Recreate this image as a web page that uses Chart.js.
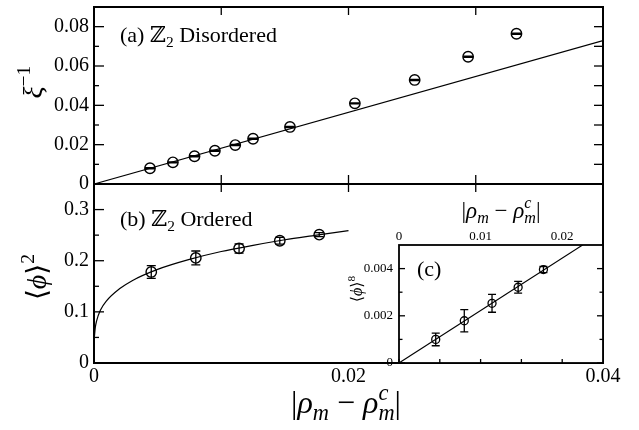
<!DOCTYPE html>
<html>
<head>
<meta charset="utf-8">
<title>Z2 order parameter</title>
<script src="https://cdn.jsdelivr.net/npm/chart.js@4/dist/chart.umd.min.js"></script>
<style>
  body { margin: 0; background: #fff; }
  #wrap { position: relative; width: 639px; height: 430px; }
  #wrap canvas { position: absolute; left: 0; top: 0; }
</style>
</head>
<body>
<div id="wrap">
  <canvas id="topChart" width="639" height="430"></canvas>
  <canvas id="midChart" width="639" height="430"></canvas>
  <canvas id="insetChart" width="639" height="430"></canvas>
</div>
<script>
// (a) Z2 disordered: inverse correlation length
const topX = [0.0044, 0.0062, 0.0079, 0.0095, 0.0111, 0.0125, 0.0154, 0.0205, 0.0252, 0.0294, 0.0332];
const topY = [0.0080, 0.0110, 0.0141, 0.0169, 0.0198, 0.0230, 0.0290, 0.0410, 0.0529, 0.0647, 0.0764];
const topErr = [0.0003, 0.0003, 0.0003, 0.0003, 0.0003, 0.0003, 0.0003, 0.0003, 0.0003, 0.0003, 0.0003];
const topFitX = [0, 0.04];
const topFitY = [0, 0.0729];

// (b) Z2 ordered: <phi>^2
const midX = [0.0045, 0.0080, 0.0114, 0.0146, 0.0177];
const midY = [0.178, 0.2055, 0.224, 0.239, 0.251];
const midErr = [0.0125, 0.0135, 0.009, 0.0065, 0.004];
const midCurveX = [0.00003, 0.0001, 0.0002, 0.0005, 0.001, 0.002, 0.003, 0.005, 0.0075, 0.01, 0.0125, 0.015, 0.0175, 0.02];
const midCurveY = [0.051, 0.069, 0.082, 0.103, 0.122, 0.145, 0.161, 0.183, 0.2025, 0.218, 0.230, 0.241, 0.250, 0.259];

// (c) inset: <phi>^8
const insetX = [0.0045, 0.0080, 0.0114, 0.0146, 0.0177];
const insetY = [0.00100, 0.00179, 0.00253, 0.00321, 0.00396];
const insetErr = [0.00027, 0.00047, 0.00038, 0.00025, 0.00013];
const insetFitX = [0, 0.0225];
const insetFitY = [0, 0.005];

// tick values
const topYTicks = [0, 0.02, 0.04, 0.06, 0.08];
const topYMinor = [0.01, 0.03, 0.05, 0.07];
const topXTicks = [0.01, 0.02, 0.03];
const midYTicks = [0, 0.1, 0.2, 0.3];
const midYMinor = [0.05, 0.15, 0.25];
const midXTicks = [0, 0.02, 0.04];
const insetXTicks = [0, 0.01, 0.02];
const insetXMinor = [0.005, 0.015];
const insetYTicks = [0, 0.002, 0.004];
const insetYMinor = [0.001, 0.003];

const FAM = "'Liberation Serif', 'DejaVu Serif', serif";

function pts(xs, ys) {
  return xs.map(function (x, i) { return { x: x, y: ys[i] }; });
}

function zeroPad(s) {
  s.paddingTop = 0; s.paddingBottom = 0; s.paddingLeft = 0; s.paddingRight = 0;
}

// box around the plot area + inward tick marks
const framePlugin = {
  id: "frame",
  beforeDatasetsDraw: function (chart, args, opts) {
    if (!opts.fill) return;
    var a = chart.chartArea, ctx = chart.ctx;
    ctx.save();
    ctx.fillStyle = opts.fill;
    ctx.fillRect(a.left, a.top, a.right - a.left, a.bottom - a.top);
    ctx.restore();
  },
  afterDatasetsDraw: function (chart, args, opts) {
    var a = chart.chartArea, ctx = chart.ctx;
    ctx.save();
    ctx.strokeStyle = "#000";
    ctx.lineWidth = opts.tickWidth || 1.3;
    (opts.marks || []).forEach(function (m) {
      var sc = chart.scales[m.axis];
      m.values.forEach(function (v) {
        var p = sc.getPixelForValue(v);
        ctx.beginPath();
        if (m.side === "left") { ctx.moveTo(a.left, p); ctx.lineTo(a.left + m.len, p); }
        if (m.side === "right") { ctx.moveTo(a.right, p); ctx.lineTo(a.right - m.len, p); }
        if (m.side === "top") { ctx.moveTo(p, a.top); ctx.lineTo(p, a.top + m.len); }
        if (m.side === "bottom") { ctx.moveTo(p, a.bottom); ctx.lineTo(p, a.bottom - m.len); }
        ctx.stroke();
      });
    });
    ctx.lineWidth = opts.lineWidth || 2;
    ctx.strokeRect(a.left, a.top, a.right - a.left, a.bottom - a.top);
    ctx.restore();
  }
};

// vertical error bars with caps
const errPlugin = {
  id: "errbars",
  afterDatasetsDraw: function (chart) {
    var ctx = chart.ctx, ys = chart.scales.y;
    chart.data.datasets.forEach(function (ds, i) {
      if (!ds.errors) return;
      var meta = chart.getDatasetMeta(i);
      ctx.save();
      ctx.strokeStyle = "#000";
      ctx.lineWidth = ds.errWidth || 1.3;
      meta.data.forEach(function (el, j) {
        var v = ds.data[j].y, e = ds.errors[j];
        var y1 = ys.getPixelForValue(v + e), y2 = ys.getPixelForValue(v - e);
        var w = ds.capHalf || 4.5;
        ctx.beginPath();
        ctx.moveTo(el.x, y1); ctx.lineTo(el.x, y2);
        ctx.moveTo(el.x - w, y1); ctx.lineTo(el.x + w, y1);
        ctx.moveTo(el.x - w, y2); ctx.lineTo(el.x + w, y2);
        ctx.stroke();
      });
      ctx.restore();
    });
  }
};

// text with sub/superscripts (axis titles and panel labels)
function fontFor(size, it) {
  return (it ? "italic " : "") + size + "px " + FAM;
}

function drawRich(ctx, t) {
  var S = t.size;
  var items = t.parts.map(function (p) {
    var small = S * 0.7, w;
    if (p.stack) {
      ctx.font = fontFor(small, true);
      w = Math.max(ctx.measureText(p.stack[0]).width, ctx.measureText(p.stack[1]).width);
    } else {
      ctx.font = fontFor(p.pos ? small : S, p.it);
      w = ctx.measureText(p.t).width;
    }
    return { p: p, w: w + (p.gap || 0) };
  });
  var total = items.reduce(function (s, it) { return s + it.w; }, 0);
  ctx.save();
  ctx.translate(t.x, t.y);
  if (t.rot) ctx.rotate(t.rot * Math.PI / 180);
  ctx.fillStyle = "#000";
  ctx.textBaseline = "alphabetic";
  ctx.textAlign = "left";
  var x = t.align === "left" ? 0 : -total / 2;
  items.forEach(function (it) {
    var p = it.p;
    if (p.stack) {
      ctx.font = fontFor(S * 0.7, true);
      ctx.fillText(p.stack[0], x, -S * 0.42);
      ctx.fillText(p.stack[1], x, S * 0.22);
    } else {
      ctx.font = fontFor(p.pos ? S * 0.7 : S, p.it);
      var dy = p.pos === "sup" ? -S * 0.42 : (p.pos === "sub" ? S * 0.22 : 0);
      ctx.fillText(p.t, x, dy);
    }
    x += it.w;
  });
  ctx.restore();
}

const richPlugin = {
  id: "rich",
  afterDraw: function (chart, args, opts) {
    (opts.texts || []).forEach(function (t) { drawRich(chart.ctx, t); });
  }
};

function rhoTitle(x, y, size) {
  return {
    x: x, y: y, size: size,
    parts: [
      { t: "|" }, { t: "ρ", it: true }, { t: "m", it: true, pos: "sub" },
      { t: " − " }, { t: "ρ", it: true }, { stack: ["c", "m"] }, { t: "|" }
    ]
  };
}

function yScale(min, max, ticks, width, size, digits, pad) {
  return {
    min: min, max: max,
    afterBuildTicks: function (s) { s.ticks = ticks.map(function (v) { return { value: v }; }); },
    ticks: {
      font: { family: FAM, size: size }, color: "#000", padding: pad,
      callback: function (v) { return v === 0 ? "0" : v.toFixed(digits); }
    },
    grid: { display: false, drawTicks: false },
    border: { display: false },
    afterFit: function (s) { s.width = width; zeroPad(s); }
  };
}

// height: fixed box height of the axis (labels are clipped to it)
function xScale(min, max, ticks, size, digits, pad, position, height) {
  return {
    type: "linear", min: min, max: max, position: position || "bottom",
    afterBuildTicks: function (s) { s.ticks = ticks.map(function (v) { return { value: v }; }); },
    ticks: {
      display: size > 0,
      font: { family: FAM, size: size || 10 }, color: "#000", padding: pad, maxRotation: 0, autoSkip: false,
      callback: function (v) { return v === 0 ? "0" : v.toFixed(digits); }
    },
    grid: { display: false, drawTicks: false },
    border: { display: false },
    afterFit: function (s) { s.height = height || 0; zeroPad(s); }
  };
}

var common = { responsive: false, animation: false };

// panel (a)
new Chart(document.getElementById("topChart"), {
  type: "scatter",
  data: {
    datasets: [
      { data: pts(topFitX, topFitY), showLine: true, borderColor: "#000", borderWidth: 1.2, pointRadius: 0 },
      { data: pts(topX, topY), errors: topErr, capHalf: 5, errWidth: 1.2, showLine: false, pointRadius: 5.2,
        pointBorderWidth: 1.4, pointBorderColor: "#000", pointBackgroundColor: "rgba(0,0,0,0)" }
    ]
  },
  options: Object.assign({}, common, {
    layout: { padding: { left: 0, top: 7, right: 36, bottom: 246 } },
    plugins: {
      legend: { display: false }, tooltip: { enabled: false },
      frame: {
        lineWidth: 2,
        marks: [
          { axis: "y", side: "left", values: topYTicks, len: 10 },
          { axis: "y", side: "left", values: topYMinor, len: 5 },
          { axis: "y", side: "right", values: topYTicks.concat(topYMinor), len: 9 },
          { axis: "x", side: "top", values: topXTicks, len: 8 },
          { axis: "x", side: "bottom", values: topXTicks, len: 9 }
        ]
      },
      rich: {
        texts: [
          { x: 42, y: 82, rot: -90, size: 28, parts: [{ t: "ξ", it: true }, { t: "−1", pos: "sup" }] },
          { x: 120, y: 42, size: 22, align: "left",
            parts: [{ t: "(a) " }, { t: "ℤ" }, { t: "2", pos: "sub" }, { t: " Disordered" }] }
        ]
      }
    },
    scales: {
      x: xScale(0, 0.04, topXTicks, 0, 2, 0),
      y: yScale(0, 0.09, topYTicks, 94, 20, 2, 5)
    }
  }),
  plugins: [framePlugin, errPlugin, richPlugin]
});

// panel (b)
new Chart(document.getElementById("midChart"), {
  type: "scatter",
  data: {
    datasets: [
      { data: pts(midCurveX, midCurveY), showLine: true, borderColor: "#000", borderWidth: 1.2, pointRadius: 0,
        cubicInterpolationMode: "monotone" },
      { data: pts(midX, midY), errors: midErr, capHalf: 4.5, errWidth: 1.3, showLine: false, pointRadius: 5.2,
        pointBorderWidth: 1.4, pointBorderColor: "#000", pointBackgroundColor: "rgba(0,0,0,0)" }
    ]
  },
  options: Object.assign({}, common, {
    layout: { padding: { left: 0, top: 184, right: 36, bottom: 37 } },
    plugins: {
      legend: { display: false }, tooltip: { enabled: false },
      frame: {
        lineWidth: 2,
        marks: [
          { axis: "y", side: "left", values: midYTicks, len: 10 },
          { axis: "y", side: "left", values: midYMinor, len: 5 },
          { axis: "x", side: "top", values: topXTicks, len: 8 }
        ]
      },
      rich: {
        texts: [
          { x: 46, y: 277, rot: -90, size: 28,
            parts: [{ t: "⟨" }, { t: "ϕ", it: true }, { t: "⟩" }, { t: "2", pos: "sup" }] },
          { x: 120, y: 226, size: 22, align: "left",
            parts: [{ t: "(b) " }, { t: "ℤ" }, { t: "2", pos: "sub" }, { t: " Ordered" }] },
          rhoTitle(346, 413, 32)
        ]
      }
    },
    scales: {
      x: xScale(0, 0.04, midXTicks, 20, 2, 2, "bottom", 30),
      y: yScale(0, 0.35, midYTicks, 94, 20, 1, 5)
    }
  }),
  plugins: [framePlugin, errPlugin, richPlugin]
});

// inset (c)
new Chart(document.getElementById("insetChart"), {
  type: "scatter",
  data: {
    datasets: [
      { data: pts(insetFitX, insetFitY), showLine: true, borderColor: "#000", borderWidth: 1.1, pointRadius: 0 },
      { data: pts(insetX, insetY), errors: insetErr, capHalf: 4, errWidth: 1.3, showLine: false, pointRadius: 4,
        pointBorderWidth: 1.3, pointBorderColor: "#000", pointBackgroundColor: "rgba(0,0,0,0)" }
    ]
  },
  options: Object.assign({}, common, {
    layout: { padding: { left: 0, top: 227, right: 36, bottom: 67 } },
    plugins: {
      legend: { display: false }, tooltip: { enabled: false },
      frame: {
        fill: "#fff",
        lineWidth: 1.8,
        marks: [
          { axis: "y", side: "left", values: insetYTicks, len: 6 },
          { axis: "y", side: "left", values: insetYMinor, len: 3.5 },
          { axis: "y", side: "right", values: insetYTicks, len: 6 },
          { axis: "y", side: "right", values: insetYMinor, len: 3.5 },
          { axis: "x", side: "bottom", values: insetXTicks.concat(insetXMinor), len: 4 }
        ]
      },
      rich: {
        texts: [
          { x: 417, y: 276, size: 22, align: "left", parts: [{ t: "(c)" }] },
          rhoTitle(501, 218, 23),
          { x: 362, y: 289, rot: -90, size: 16,
            parts: [{ t: "⟨" }, { t: "ϕ", it: true }, { t: "⟩" }, { t: "8", pos: "sup" }] }
        ]
      }
    },
    scales: {
      x: xScale(0, 0.025, insetXTicks, 13, 2, 1, "top", 18),
      y: yScale(0, 0.005, insetYTicks, 399, 13, 3, 6)
    }
  }),
  plugins: [framePlugin, errPlugin, richPlugin]
});
</script>
</body>
</html>
